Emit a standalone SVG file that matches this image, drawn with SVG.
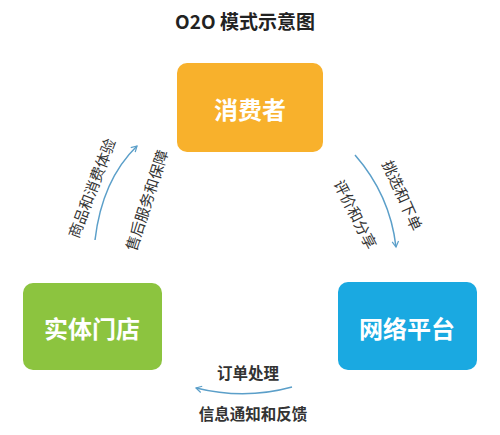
<svg xmlns="http://www.w3.org/2000/svg" width="500" height="435" viewBox="0 0 500 435">
<defs>
<style>
.box{stroke:none}
.nt{font-family:"Noto Sans CJK SC","Noto Sans",sans-serif;font-weight:bold;font-size:24px;fill:#fff;text-anchor:middle;dominant-baseline:central}
.lb{font-family:"Noto Sans CJK SC","Noto Sans",sans-serif;font-size:15px;fill:#333;text-anchor:middle;dominant-baseline:central}
.lbb{font-family:"Noto Sans CJK SC","Noto Sans",sans-serif;font-size:15.5px;font-weight:bold;fill:#333;text-anchor:middle;dominant-baseline:central}
.arr{fill:none;stroke:#5b9fc9;stroke-width:1.5;marker-end:url(#ah)}
</style>
<marker id="ah" viewBox="0 0 10 10" refX="8" refY="5" markerWidth="8" markerHeight="8" orient="auto" markerUnits="userSpaceOnUse">
<path d="M1,1 L8,5 L1,9" fill="none" stroke="#5b9fc9" stroke-width="1.5"/>
</marker>
</defs>
<rect width="500" height="435" fill="#fff"/>
<text x="245" y="20" font-family="'Noto Sans CJK SC','Noto Sans',sans-serif" font-weight="bold" font-size="19" fill="#222" text-anchor="middle" dominant-baseline="central">O2O 模式示意图</text>
<g id="consumer">
<rect class="box" x="177" y="63" width="146" height="89" rx="10" fill="#f8b12c"/>
<text class="nt" x="250" y="108">消费者</text>
</g>
<g id="store">
<rect class="box" x="23" y="283" width="139" height="87" rx="10" fill="#8cc43f"/>
<text class="nt" x="92" y="327">实体门店</text>
</g>
<g id="platform">
<rect class="box" x="338" y="282" width="139" height="88" rx="10" fill="#1aa9e1"/>
<text class="nt" x="407" y="327">网络平台</text>
</g>
<g id="connectors">
<path class="arr" d="M95,240 Q102,180 137,146"/>
<path class="arr" d="M355,155 Q390,195 396,247"/>
<path class="arr" d="M292,387 Q245,400 196,388"/>
</g>
<g id="labels">
<text class="lb" transform="translate(91,188) rotate(-69)">商品和消费体验</text>
<text class="lb" transform="translate(146,200) rotate(-72)">售后服务和保障</text>
<text class="lb" transform="translate(403,195) rotate(66)">挑选和下单</text>
<text class="lb" transform="translate(356,214) rotate(63)">评价和分享</text>
<text class="lbb" x="248" y="372">订单处理</text>
<text class="lbb" x="253" y="413">信息通知和反馈</text>
</g>
</svg>
